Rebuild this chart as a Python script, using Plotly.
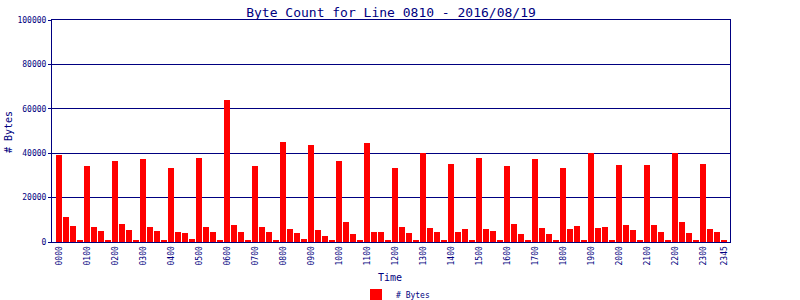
import plotly.graph_objects as go

# Time slots (15-minute intervals)
hours = [f"{h:02d}" for h in range(24)]
slots = [f"{h}{m}" for h in hours for m in ["00", "15", "30", "45"]]

bytes_per_slot = [
    39300, 11100, 7300, 600,    # 00
    34300, 6600, 5100, 1000,    # 01
    36600, 8200, 5500, 600,     # 02
    37500, 6600, 5100, 1000,    # 03
    33400, 4300, 3900, 1500,    # 04
    37900, 6600, 4300, 1000,    # 05
    64000, 7800, 4300, 1000,    # 06
    34300, 6900, 4300, 600,     # 07
    45100, 6000, 4200, 1500,    # 08
    43800, 5500, 2800, 1000,    # 09
    36600, 9100, 3700, 1000,    # 10
    44700, 4600, 4600, 1000,    # 11
    33400, 6900, 4200, 1000,    # 12
    40200, 6400, 4600, 1000,    # 13
    35200, 4600, 6000, 1000,    # 14
    37900, 6000, 5100, 600,     # 15
    34300, 8200, 3700, 600,     # 16
    37500, 6400, 3700, 600,     # 17
    33400, 6000, 7300, 600,     # 18
    40000, 6400, 6900, 600,     # 19
    34800, 7800, 5500, 600,     # 20
    34800, 7800, 4600, 1000,    # 21
    40000, 9100, 4200, 600,     # 22
    35200, 6000, 4600, 1000,    # 23
]

tick_labels = [f"{h}00" for h in hours] + ["2345"]
tick_positions = [slots.index(t) for t in tick_labels]

y_ticks = [0, 20000, 40000, 60000, 80000, 100000]

NAVY = "#000080"
FONT = "DejaVu Sans Mono"

x_idx = list(range(len(slots)))

L, R, T, B = 52, 70, 20, 58
plot_w, plot_h = 800 - L - R, 300 - T - B

fig = go.Figure()
fig.add_trace(go.Bar(
    x=x_idx,
    y=bytes_per_slot,
    name="# Bytes",
    marker=dict(color="#FF0000", line=dict(width=0)),
    width=6 / 7,
    showlegend=True,
))

fig.update_layout(
    width=800, height=300,
    margin=dict(l=L, r=R, t=T, b=B, autoexpand=False),
    paper_bgcolor="white",
    plot_bgcolor="white",
    font=dict(family=FONT, color=NAVY, size=8),
    title=dict(
        text="Byte Count for Line 0810 - 2016/08/19",
        x=0.5, xref="paper", xanchor="center",
        y=0.96, yref="container", yanchor="middle",
        font=dict(family=FONT, size=13, color=NAVY),
    ),
    bargap=0,
    showlegend=True,
    legend=dict(
        orientation="h",
        x=(356 - L) / plot_w, xanchor="left", xref="paper",
        y=(242 - 295) / plot_h, yanchor="middle", yref="paper",
        font=dict(family=FONT, size=8, color=NAVY),
        bgcolor="rgba(0,0,0,0)",
        itemwidth=30,
    ),
    xaxis=dict(
        range=[-1, 95.857],
        tickmode="array",
        tickvals=tick_positions,
        ticktext=tick_labels,
        tickangle=-90,
        tickfont=dict(family=FONT, size=8, color=NAVY),
        showgrid=False,
        showline=True, linecolor=NAVY, linewidth=1, mirror=True,
        ticks="", zeroline=False,
    ),
    yaxis=dict(
        range=[0, 100000],
        tickmode="array",
        tickvals=y_ticks,
        ticktext=[str(v) for v in y_ticks],
        tickfont=dict(family=FONT, size=8, color=NAVY),
        showgrid=True, gridcolor=NAVY, gridwidth=1,
        showline=True, linecolor=NAVY, linewidth=1, mirror=True,
        ticks="outside", ticklen=3, tickcolor=NAVY,
        zeroline=False,
    ),
    annotations=[
        dict(text="# Bytes", x=(8 - L) / plot_w, y=(242 - 132) / plot_h,
             xref="paper", yref="paper", xanchor="center", yanchor="middle",
             textangle=-90, showarrow=False,
             font=dict(family=FONT, size=10, color=NAVY)),
        dict(text="Time", x=(390 - L) / plot_w, y=(242 - 277) / plot_h,
             xref="paper", yref="paper", xanchor="center", yanchor="middle",
             showarrow=False,
             font=dict(family=FONT, size=10, color=NAVY)),
    ],
)

fig.write_html("out.html")
